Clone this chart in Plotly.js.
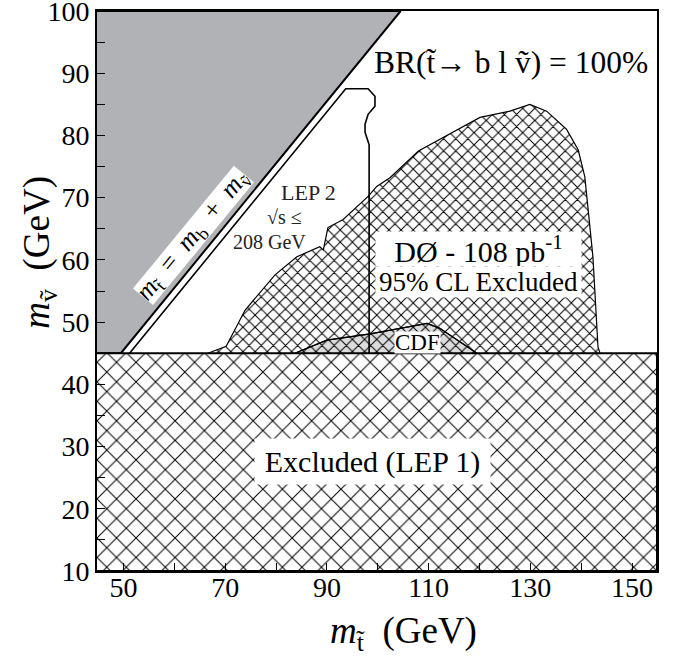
<!DOCTYPE html>
<html><head><meta charset="utf-8">
<script src="https://cdn.plot.ly/plotly-3.0.1.min.js"></script>
<style>html,body{margin:0;padding:0;background:#fff}</style>
</head><body><div id="chart" style="width:681px;height:666px"></div>
<script>
// Kinematic limit region (m_stop < m_b + m_snu)
const kinX = [44.8, 49.5, 104.5, 44.8];
const kinY = [45, 45, 100, 100];
// LEP 1 excluded band
const lep1X = [44.8, 154.9, 154.9, 44.8];
const lep1Y = [10, 10, 45, 45];
// D0 108 pb-1 95% CL excluded contour
const d0X = [66.6, 70.2, 73.9, 79.8, 84.1, 88.6, 89.3, 90.0, 90.2, 93.2, 98.1, 99.8, 102.4, 108.0, 120.1, 126.0, 129.9, 133.2, 137.1, 139.4, 140.7, 141.3, 142.3, 143.3, 143.7];
const d0Y = [45.0, 46.1, 51.9, 57.6, 60.5, 62.1, 61.6, 64.6, 65.2, 66.5, 70.2, 71.8, 73.2, 77.5, 82.9, 83.9, 85.0, 83.9, 81.0, 77.7, 73.4, 68.6, 60.5, 46.0, 45.0];
// CDF excluded region
const cdfX = [83.7, 90.0, 98.5, 109.7, 112.2, 119.5];
const cdfY = [45.0, 47.1, 48.1, 49.8, 49.0, 45.0];
// LEP 2 (sqrt(s) <= 208 GeV) contour
const lep2X = [51.2, 93.7, 98.1, 99.45, 99.45, 98.1, 97.5, 97.5, 98.3, 98.3];
const lep2Y = [45.0, 87.5, 87.5, 86.3, 84.7, 83.4, 81.8, 80.5, 78.5, 45.0];
// tick labels
const xTicks = [50, 70, 90, 110, 130, 150];
const yTicks = [10, 20, 30, 40, 50, 60, 70, 80, 90, 100];

const F = 'Liberation Serif, Times New Roman, serif';

const traces = [
  {x: kinX, y: kinY, mode: 'lines', fill: 'toself', fillcolor: '#b1b2b6',
   line: {color: 'black', width: 2}, hoverinfo: 'skip'},
  {x: cdfX, y: cdfY, mode: 'lines', fill: 'toself', fillcolor: '#dcdcdc',
   line: {color: 'black', width: 1.2}, hoverinfo: 'skip'},
  {x: d0X, y: d0Y, mode: 'lines', fill: 'toself', fillcolor: 'rgba(0,0,0,0)',
   fillpattern: {shape: 'x', size: 8.6, solidity: 0.22, fgcolor: 'black', bgcolor: 'rgba(0,0,0,0)'},
   line: {color: 'black', width: 1.2}, hoverinfo: 'skip'},
  {x: cdfX, y: cdfY, mode: 'lines', line: {color: 'black', width: 1.2}, hoverinfo: 'skip'},
  {x: lep1X, y: lep1Y, mode: 'lines', fill: 'toself', fillcolor: 'white',
   fillpattern: {shape: 'x', size: 13.8, solidity: 0.14, fgcolor: 'black', bgcolor: 'white'},
   line: {color: 'black', width: 2}, hoverinfo: 'skip'},
  {x: lep2X, y: lep2Y, mode: 'lines', line: {color: 'black', width: 1.6}, hoverinfo: 'skip'}
];

const ann = (o) => Object.assign({xref: 'x', yref: 'y', showarrow: false,
  xanchor: 'center', yanchor: 'middle',
  font: {family: F, size: 22, color: 'black'}}, o);

const layout = {
  width: 681, height: 666,
  margin: {l: 97, r: 24, t: 11, b: 95},
  paper_bgcolor: 'white', plot_bgcolor: 'white',
  showlegend: false,
  font: {family: F, color: 'black'},
  xaxis: {range: [44.8, 154.9], tickvals: xTicks, ticktext: xTicks.map(String),
    ticks: 'inside', ticklen: 8, tickcolor: 'black', tickwidth: 1, ticklabelstandoff: -10,
    ticklabeloverflow: 'allow',
    minor: {dtick: 10, tick0: 50, ticks: 'inside', ticklen: 8, tickcolor: 'black'},
    showline: true, linecolor: 'black', linewidth: 2, mirror: true,
    showgrid: false, zeroline: false, tickfont: {family: F, size: 28, color: 'black'}},
  yaxis: {range: [10, 100], tickvals: yTicks, ticktext: yTicks.map(String),
    ticks: 'inside', ticklen: 8, tickcolor: 'black', tickwidth: 1,
    ticklabeloverflow: 'allow',
    minor: {dtick: 5, tick0: 10, ticks: 'inside', ticklen: 8, tickcolor: 'black'},
    showline: true, linecolor: 'black', linewidth: 2, mirror: true,
    showgrid: false, zeroline: false, tickfont: {family: F, size: 28, color: 'black'}},
  annotations: [
    ann({x: 126.2, y: 91.8, text: 'BR(t\u0303\u2192 b l \u1e7d) = 100%', font: {family: F, size: 31.5, color: 'black'}}),
    ann({x: 86.3, y: 70.8, text: 'LEP 2', font: {family: F, size: 22, color: '#222'}}),
    ann({x: 81.7, y: 66.9, text: '\u221as \u2264', font: {family: F, size: 20, color: '#222'}}),
    ann({x: 78.8, y: 62.9, text: '208 GeV', font: {family: F, size: 20, color: '#222'}}),
    ann({x: 119.9, y: 61.7, text: 'D\u00d8 - 108 pb<sup>-1</sup>', bgcolor: 'white', borderpad: 0,
      width: 205, height: 34, font: {family: F, size: 30, color: 'black'}}),
    ann({x: 119.9, y: 56.5, text: '95% CL Excluded', bgcolor: 'white', borderpad: 0,
      width: 205, height: 30, font: {family: F, size: 27, color: 'black'}}),
    ann({x: 107.8, y: 46.7, text: 'CDF', bgcolor: 'white', borderpad: 0, height: 21,
      font: {family: F, size: 23, color: 'black'}}),
    ann({x: 99.0, y: 27.6, text: 'Excluded (LEP 1)', bgcolor: 'white', borderpad: 0,
      width: 235, height: 45, font: {family: F, size: 30, color: 'black'}}),
    ann({x: 63.7, y: 64.0, textangle: -50.6, bgcolor: 'white', borderpad: 0, width: 158, height: 25,
      text: '<i>m</i><sub>t\u0303</sub>\u2002=\u2002<i>m</i><sub>b</sub>\u2002+\u2002<i>m</i><sub>\u1e7d</sub>',
      font: {family: F, size: 26, color: 'black'}}),
    {xref: 'paper', yref: 'paper', x: 0.548, y: -0.111, xanchor: 'center', yanchor: 'middle', showarrow: false,
      text: '<i>m</i><sub>t\u0303</sub>\u00a0\u00a0(GeV)', font: {family: F, size: 37, color: 'black'}},
    {xref: 'paper', yref: 'paper', x: -0.102, y: 0.57, xanchor: 'center', yanchor: 'middle', showarrow: false, textangle: -90,
      text: '<i>m</i><sub>\u1e7d</sub>\u00a0\u00a0(GeV)', font: {family: F, size: 37, color: 'black'}}
  ]
};

Plotly.newPlot('chart', traces, layout, {displayModeBar: false, staticPlot: true});
</script></body></html>
